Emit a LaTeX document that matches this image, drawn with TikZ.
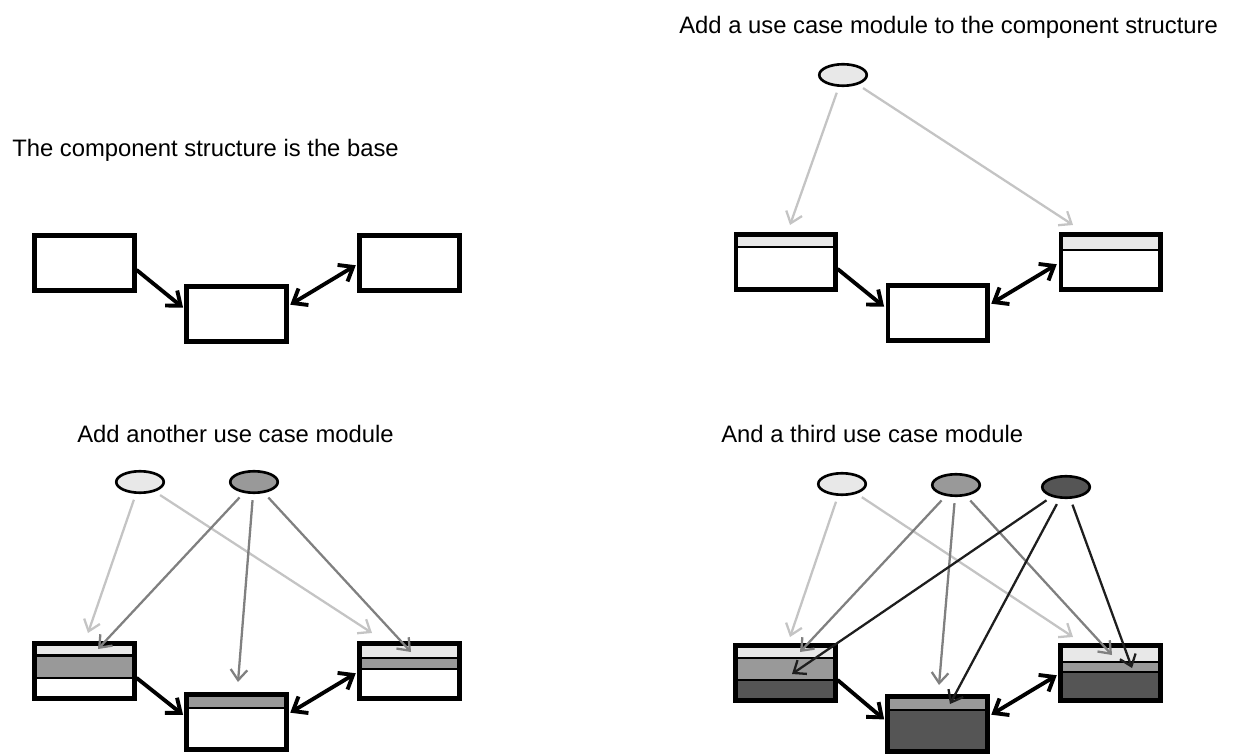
\documentclass[tikz,border=0pt]{standalone}
\usepackage{fontspec}
\setmainfont{Liberation Sans}
\usetikzlibrary{arrows.meta,shapes.geometric}
\definecolor{ucone}{HTML}{E8E8E8}
\definecolor{uctwo}{HTML}{999999}
\definecolor{ucthree}{HTML}{555555}
\definecolor{linkone}{HTML}{C4C4C4}
\definecolor{linktwo}{HTML}{808080}
\definecolor{linkthree}{HTML}{1E1E1E}

\begin{document}
\begin{tikzpicture}[x=0.02cm,y=-0.02cm,
  title/.style={anchor=base west,inner sep=0,font=\fontsize{13.55}{16}\selectfont},
  comp/.style={draw,fill=white,line width=2.3pt,rectangle,minimum width=2.0cm,minimum height=1.1cm,inner sep=0,outer sep=0},
  compline/.style={line width=2.3pt},
  sep/.style={line width=1.3pt},
  uc/.style={draw,ellipse,line width=1.5pt,minimum width=0.95cm,minimum height=0.43cm,inner sep=0},
  link/.style={line width=1.3pt,-{Straight Barb[length=6pt,width=9.5pt]},shorten <=3.5pt},
  assoc/.style={line width=2.2pt,-{Straight Barb[length=7pt,width=11pt]},shorten <=1.5pt,shorten >=2.5pt},
  both/.style={line width=2.2pt,{Straight Barb[length=7pt,width=11pt]}-{Straight Barb[length=7pt,width=11pt]},shorten <=2.5pt,shorten >=2.5pt}]

\useasboundingbox (0,0) rectangle (1233,756);

\node[title] (t1) at (12,157) {The component structure is the base};
\node[title] (t2) at (679,34) {Add a use case module to the component structure};
\node[title] (t3) at (77,442) {Add another use case module};
\node[title] (t4) at (721,442) {And a third use case module};

\begin{scope}[shift={(32,233)}]
\node[comp] (a1) at (52.5,30) {};
\node[comp] (b1) at (204.5,81) {};
\node[comp] (c1) at (377.5,30) {};
\draw[assoc] (a1.-6) -- (b1.176);
\draw[both] (b1.8) -- (c1.west);
\end{scope}

\begin{scope}[shift={(733,232)}]
\node[comp] (a2) at (52.5,30) {};
\node[comp] (b2) at (204.5,81) {};
\node[comp] (c2) at (377.5,30) {};
\fill[ucone] (2.5,2.5) rectangle (102.5,15);
\draw[sep] (2.5,15) -- (102.5,15);
\draw[compline] (a2.north west) rectangle (a2.south east);
\fill[ucone] (327.5,2.5) rectangle (427.5,18);
\draw[sep] (327.5,18) -- (427.5,18);
\draw[compline] (c2.north west) rectangle (c2.south east);
\draw[assoc] (a2.-6) -- (b2.176);
\draw[both] (b2.8) -- (c2.west);

\node[uc,fill=ucone] (u2a) at (110,-157) {};
\coordinate (t2aa) at (57,-7);
\coordinate (t2ac) at (340,-7);
\draw[link,linkone] (u2a) -- (t2aa);
\draw[link,linkone] (u2a) -- (t2ac);
\end{scope}

\begin{scope}[shift={(32,641)}]
\node[comp] (a3) at (52.5,30) {};
\node[comp] (b3) at (204.5,81) {};
\node[comp] (c3) at (377.5,30) {};
\fill[ucone] (2.5,2.5) rectangle (102.5,14.5);
\fill[uctwo] (2.5,14.5) rectangle (102.5,37);
\draw[sep] (2.5,14.5) -- (102.5,14.5);
\draw[sep] (2.5,37) -- (102.5,37);
\draw[compline] (a3.north west) rectangle (a3.south east);
\fill[uctwo] (154.5,53.5) rectangle (254.5,67);
\draw[sep] (154.5,67) -- (254.5,67);
\draw[compline] (b3.north west) rectangle (b3.south east);
\fill[ucone] (327.5,2.5) rectangle (427.5,17);
\fill[uctwo] (327.5,17) rectangle (427.5,28);
\draw[sep] (327.5,17) -- (427.5,17);
\draw[sep] (327.5,28) -- (427.5,28);
\draw[compline] (c3.north west) rectangle (c3.south east);
\draw[assoc] (a3.-6) -- (b3.175);
\draw[both] (b3.8) -- (c3.west);

\node[uc,fill=ucone] (u3a) at (108,-159) {};
\node[uc,fill=uctwo] (u3b) at (222,-159) {};
\coordinate (t3aa) at (56,-8);
\coordinate (t3ac) at (340,-8);
\coordinate (t3ba) at (66,8);
\coordinate (t3bb) at (206,41);
\coordinate (t3bc) at (379,11);
\draw[link,linkone] (u3a) -- (t3aa);
\draw[link,linkone] (u3a) -- (t3ac);
\draw[link,linktwo] (u3b) -- (t3ba);
\draw[link,linktwo] (u3b) -- (t3bb);
\draw[link,linktwo] (u3b) -- (t3bc);
\end{scope}

\begin{scope}[shift={(733,643)},comp/.append style={fill=ucthree,line width=2.8pt},compline/.style={line width=2.8pt}]
\node[comp] (a4) at (52.5,30) {};
\node[comp] (b4) at (204.5,81) {};
\node[comp] (c4) at (377.5,30) {};
\fill[ucone] (2.5,2.5) rectangle (102.5,15);
\fill[uctwo] (2.5,15) rectangle (102.5,37);
\draw[sep] (2.5,15) -- (102.5,15);
\draw[sep] (2.5,37) -- (102.5,37);
\draw[compline] (a4.north west) rectangle (a4.south east);
\fill[uctwo] (154.5,53.5) rectangle (254.5,67);
\draw[sep] (154.5,67) -- (254.5,67);
\draw[compline] (b4.north west) rectangle (b4.south east);
\fill[ucone] (327.5,2.5) rectangle (427.5,19);
\fill[uctwo] (327.5,19) rectangle (427.5,29);
\draw[sep] (327.5,19) -- (427.5,19);
\draw[sep] (327.5,29) -- (427.5,29);
\draw[compline] (c4.north west) rectangle (c4.south east);
\draw[assoc] (a4.-6) -- (b4.178);
\draw[both] (b4.8) -- (c4.west);

\node[uc,fill=ucone] (u4a) at (109,-159) {};
\node[uc,fill=uctwo] (u4b) at (223,-158) {};
\node[uc,fill=ucthree] (u4c) at (333,-156) {};
\coordinate (t4aa) at (57,-6);
\coordinate (t4ac) at (340,-6);
\coordinate (t4ba) at (67,9);
\coordinate (t4bb) at (206,42);
\coordinate (t4bc) at (379,12);
\coordinate (t4ca) at (59,31);
\coordinate (t4cb) at (217,61);
\coordinate (t4cc) at (399,25);
\draw[link,linkone] (u4a) -- (t4aa);
\draw[link,linkone] (u4a) -- (t4ac);
\draw[link,linktwo] (u4b) -- (t4ba);
\draw[link,linktwo] (u4b) -- (t4bb);
\draw[link,linktwo] (u4b) -- (t4bc);
\draw[link,linkthree] (u4c) -- (t4ca);
\draw[link,linkthree] (u4c) -- (t4cb);
\draw[link,linkthree] (u4c) -- (t4cc);
\end{scope}

\end{tikzpicture}
\end{document}
